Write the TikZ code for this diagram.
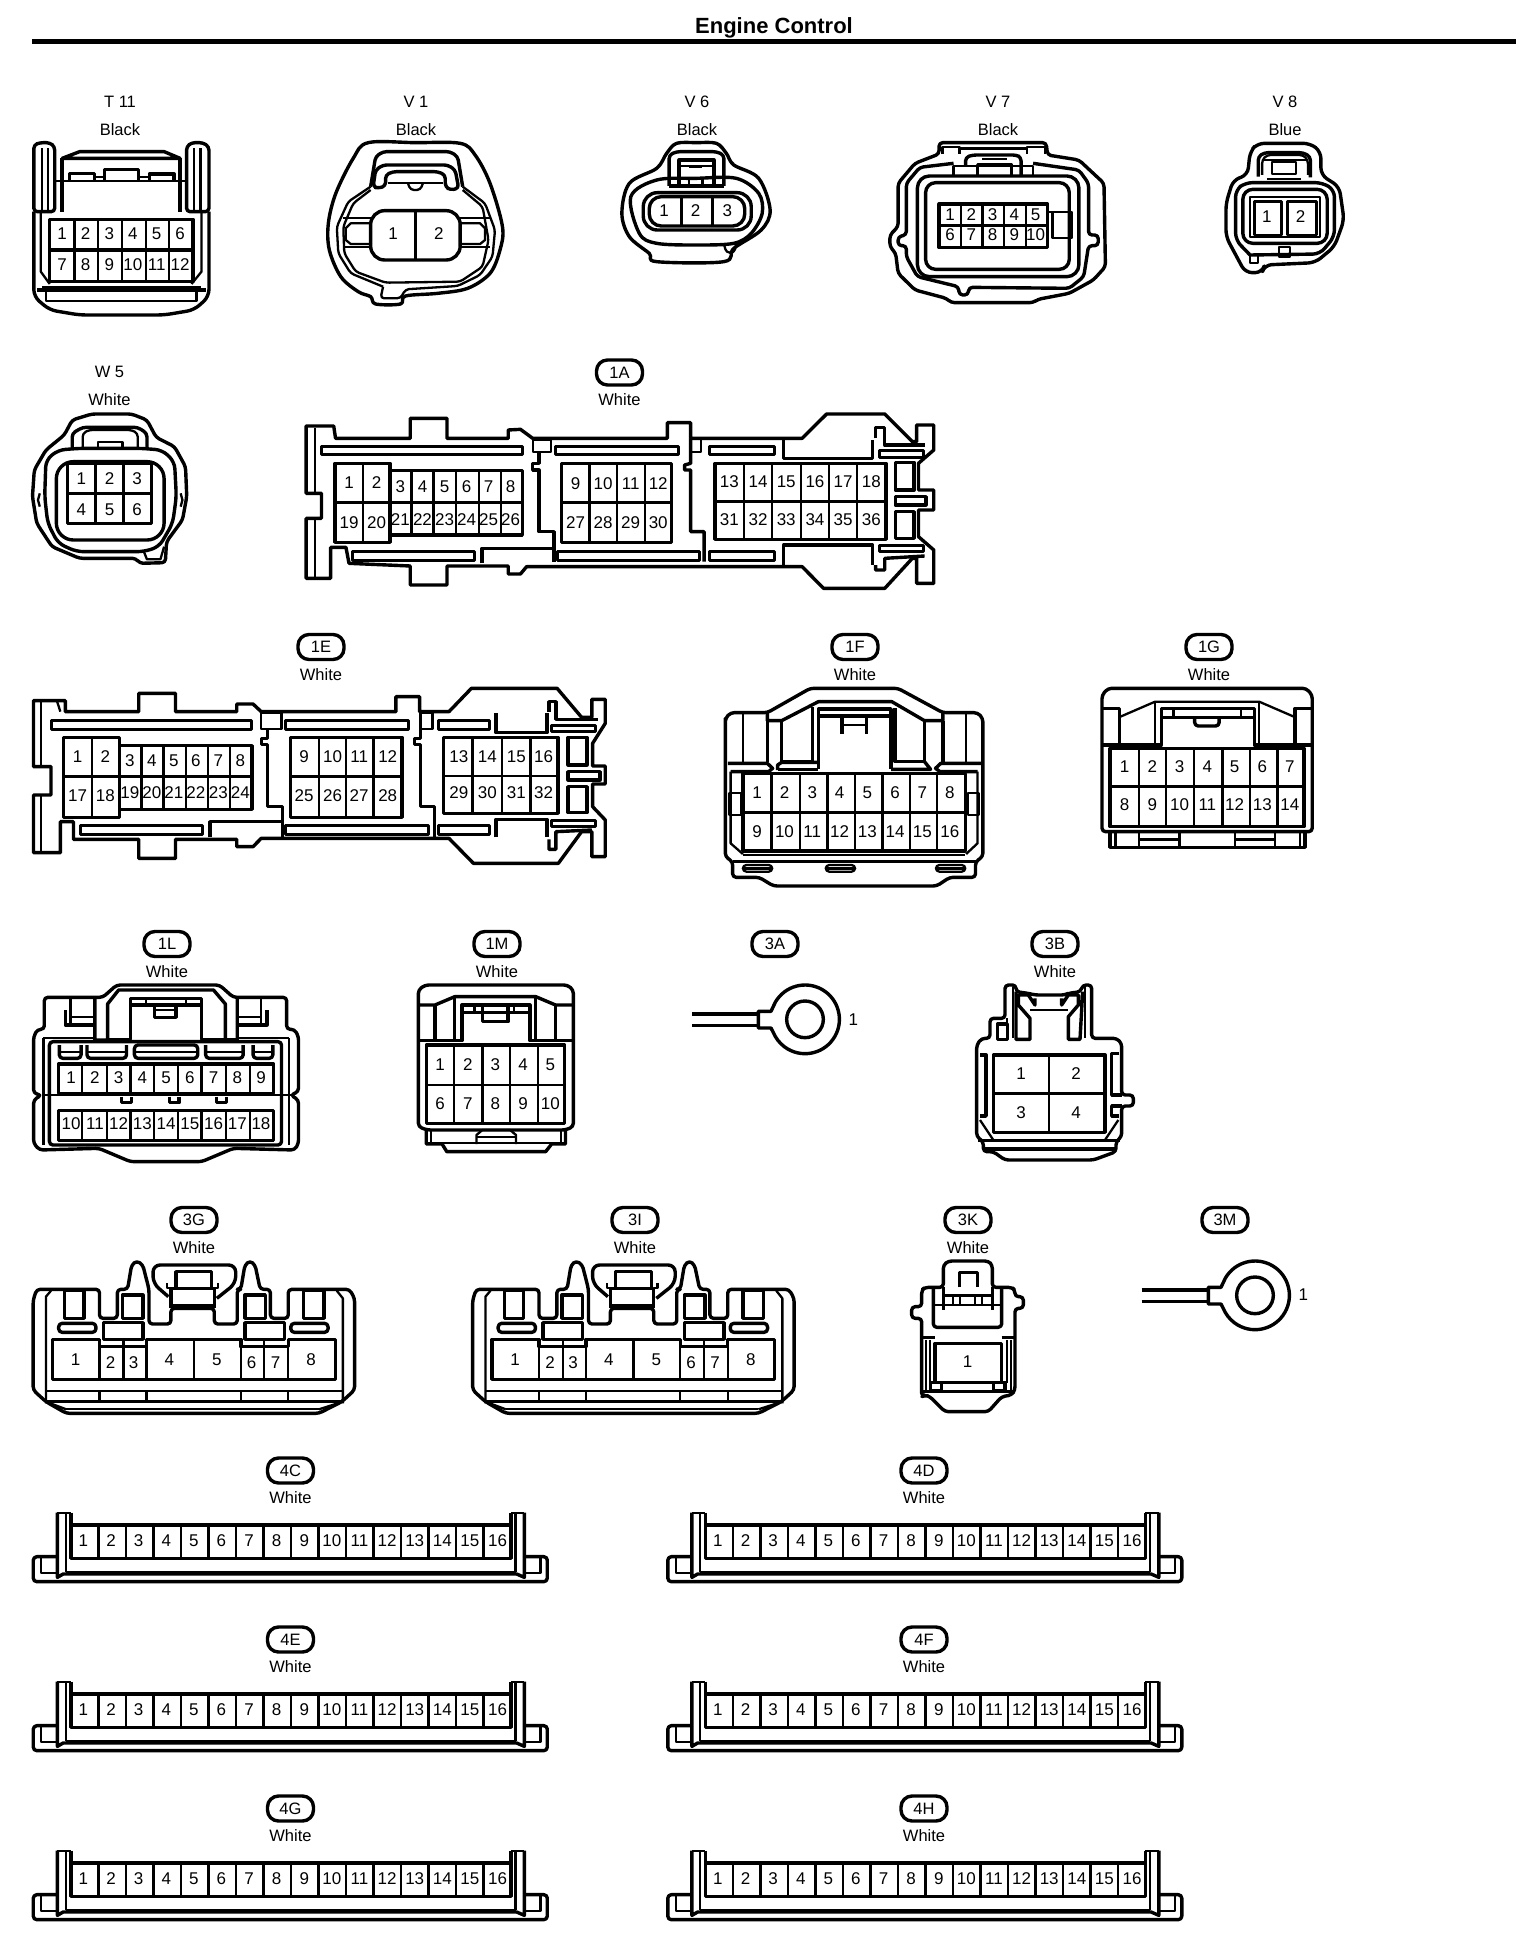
\documentclass[tikz,border=0pt]{standalone}
\usepackage{fontspec}
\setmainfont{Liberation Sans}
\newcommand\ply[2][]{\draw[#1] plot coordinates {#2};}
\newcommand\plc[2][]{\draw[#1] plot coordinates {#2} -- cycle;}
\newcommand\smo[2][]{\draw[#1] plot[smooth cycle,tension=.55] coordinates {#2};}
% grid: x0 y0 x1 y1 row-y columns
\newcommand\grd[6]{\draw (#1,#2) rectangle (#3,#4);\draw[thn,line width=2.8pt] (#1,#5)--(#3,#5);\foreach \c in {#6}{\draw[thn,line width=2.4pt] (\c,#2)--(\c,#4);}}
% pins: prefix, y, x/label list
\newcommand\pins[3]{\foreach \x/\t in {#3}{\node[pinlab] (#1p\t) at (\x,#2) {\t};}}
\newcommand\head[4]{\node[lab] (id#1) at (#2,#3) {#1};\node[lab] (col#1) at (#2,#3+27.5) {#4};}
\newcommand\pill[4]{\node[pillst] (id#1) at (#2,#3) {#1};\ifx&#4&\else\node[lab] (col#1) at (#2,#3+27.5) {#4};\fi}
\tikzset{
 z/.style n args={4}{shift={(#1,#2)},xscale={1/#3},yscale={1/#4}},
 thn/.style={line width=2.3pt},
 rc/.style={rounded corners=3.5pt},
 rcb/.style={rounded corners=7pt},
 pinlab/.style={inner sep=0pt,font=\fontsize{17}{17}\selectfont},
 lab/.style={inner sep=0pt,font=\fontsize{16.5}{17}\selectfont},
 pillst/.style={draw,line width=3.4pt,rounded corners=11pt,minimum width=46pt,minimum height=25pt,inner sep=0pt,font=\fontsize{16.5}{17}\selectfont},
}
\newcommand\lug[3]{% wire x0, cx, cy (zoom units, scale 3)
 \draw (#1,#3-16)--(#2-140,#3-16); \draw (#1,#3+18)--(#2-140,#3+18);
 \draw (#2-140,#3-24)--(#2-102,#3-24)--(#2-89,#3-51.5) arc[start angle=210,end angle=510,radius=103]--(#2-102,#3+26)--(#2-140,#3+26)--cycle;
 \draw (#2,#3) circle[radius=55];
}
\newcommand\threeG[1]{%
 \plc[rc]{(65,300) (72,268) (195,268) (195,355) (230,355) (230,268) (250,268) (258,195) (268,182) (280,195) (292,268) (292,372) (335,372) (335,325) (420,325) (420,372) (465,372) (465,268) (472,268) (480,195) (490,182) (500,195) (510,268) (530,268) (530,355) (565,355) (565,268) (685,268) (695,295) (695,570) (670,605) (625,640) (130,640) (90,605) (65,570)}
 \ply[thn]{(100,272) (90,290) (90,610)}
 \ply[thn]{(660,272) (672,295) (672,610)}
 \plc{(127,270) (127,355) (165,355) (165,270)}
 \plc{(595,270) (595,355) (635,355) (635,270)}
 \draw (240,285) rectangle (280,355);
 \draw (480,285) rectangle (520,355);
 \ply[rcb]{(330,290) (300,250) (300,195) (462,195) (462,250) (425,295)}
 \ply{(345,265) (345,215) (415,215) (415,265)}
 \ply{(335,325) (335,265) (420,265) (420,325)}
 \draw (335,318)--(420,318);
 \draw[thn] (328,250)--(328,265)--(335,265); \draw[thn] (427,250)--(427,265)--(420,265);
 \draw[rc] (115,370) rectangle (188,397);
 \draw[rc] (570,370) rectangle (643,397);
 \draw (203,368) rectangle (280,418);
 \draw (480,368) rectangle (558,418);
 \plc{(103,418) (195,418) (195,440) (287,440) (287,418) (472,418) (472,440) (565,440) (565,418) (657,418) (657,538) (103,538)}
 \foreach \c in {195,242,287,380,472,518,565}{\draw[thn] (\c,418)--(\c,538);}
 \pins{#1}{478}{148/1,332/4,425/5,610/8}
 \pins{#1}{488}{217/2,262/3,493/6,540/7}
 \draw[thn] (90,574)--(672,574); \draw (90,605)--(672,605);
 \foreach \c in {195,287,472,565}{\draw[thn] (\c,574)--(\c,605);}
 \ply[thn]{(90,605) (130,628)}\ply[thn]{(672,605) (625,628)}
 \draw[thn] (130,628)--(625,628);
}
\newcommand\fourC[1]{%
 \ply[rc]{(148,350) (87,350) (87,425) (1430,425) (1430,350) (1370,350)}
 \ply[thn]{(108,352) (108,398) (150,398)}
 \ply[thn]{(1412,352) (1412,398) (1368,398)}
 \ply{(150,218) (150,412) (165,402) (1350,402) (1370,412) (1370,218)}
 \draw[thn] (150,218)--(185,218); \draw[thn] (1335,218)--(1370,218);
 \ply[thn]{(172,218) (172,395)}\ply[thn]{(1347,218) (1347,395)}
 \draw[thn] (172,395)--(1347,395);
 \ply{(185,218) (185,355)}\ply{(1335,218) (1335,355)}
 \draw (185,255) rectangle (1335,355);
 \foreach \i [evaluate=\i as \xx using {185+71.9*\i}] in {1,...,15}{\draw[line width=2.6pt] (\xx,255)--(\xx,355);}
 \foreach \i [evaluate=\i as \xx using {218+72.13*(\i-1)}] in {1,...,16}{\node[pinlab] (#1p\i) at (\xx,302) {\i};}
}
\begin{document}
\begin{tikzpicture}[x=1pt,y=-1pt,line width=3.4pt,line join=round]
\useasboundingbox (0,0) rectangle (1536,1958);
\fill[white] (0,0) rectangle (1536,1958);
\node[inner sep=0pt,font=\bfseries\fontsize{22}{22}\selectfont] (title) at (774,28) {Engine Control};
\coordinate (ruleL) at (32,41.5); \coordinate (ruleR) at (1516,41.5);
\draw[line width=4.6pt] (ruleL)--(ruleR);
% ---------- headers
\head{T 11}{120}{102}{Black}
\head{V 1}{416}{102}{Black}
\head{V 6}{697}{102}{Black}
\head{V 7}{998}{102}{Black}
\head{V 8}{1285}{102}{Blue}
\head{W 5}{109.5}{372}{White}
\pill{1A}{619.5}{372.5}{White}
\pill{1E}{321}{647}{White}
\pill{1F}{855}{647}{White}
\pill{1G}{1209}{647}{White}
\pill{1L}{167}{944}{White}
\pill{1M}{497}{944}{White}
\pill{3A}{775}{944}{}
\pill{3B}{1055}{944}{White}
\pill{3G}{194}{1220}{White}
\pill{3I}{635}{1220}{White}
\pill{3K}{968}{1220}{White}
\pill{3M}{1225}{1220}{}
\pill{4C}{290.5}{1470.5}{White}
\pill{4D}{924}{1470.5}{White}
\pill{4E}{290.5}{1639.5}{White}
\pill{4F}{924}{1639.5}{White}
\pill{4G}{290.5}{1808.5}{White}
\pill{4H}{924}{1808.5}{White}
% ---------- T11
\begin{scope}[z={0}{80}{2.01}{3}]
 \plc[rc]{(68,395) (68,195) (80,188) (100,188) (110,200) (110,395)}
 \plc[rc]{(375,395) (375,200) (385,188) (408,188) (420,200) (420,395)}
 \ply[thn]{(85,205) (85,395)}\ply[thn]{(97,205) (97,395)}
 \ply[thn]{(390,205) (390,395)}\ply[thn]{(403,205) (403,395)}
 \plc{(125,235) (160,215) (330,215) (362,235)}
 \draw (125,235)--(125,395); \draw (362,235)--(362,395);
 \draw[thn] (110,302)--(375,302);
 \ply{(140,300) (140,280) (190,280) (190,300)}
 \ply{(210,300) (210,268) (278,268) (278,300)}
 \ply{(300,300) (300,282) (350,282) (350,300)}
 \draw[thn] (190,292)--(210,292); \draw[thn] (278,292)--(300,292);
 \ply[rcb]{(68,395) (68,650) (100,690) (160,705) (330,705) (390,690) (420,650) (420,395)}
 \ply[thn]{(82,395) (82,575) (100,612)}\ply[thn]{(405,395) (405,575) (385,612)}
 \grd{100}{418}{388}{510}{510}{150,197,245,293,340}
 \grd{100}{510}{388}{605}{510}{150,197,245,293,340}
 \draw[thn] (85,620)--(405,620); \draw (75,630)--(415,630);
 \ply[thn]{(92,630) (92,662) (395,662) (395,630)}
 \pins{T}{462}{125/1,172/2,220/3,267/4,315/5,362/6}
 \pins{T}{555}{125/7,172/8,220/9,267/10,315/11,362/12}
\end{scope}
% ---------- V1
\begin{scope}[z={0}{80}{2.01}{3}]
 \smo{(740,188) (835,188) (925,190) (955,225) (985,310) (1010,440) (1005,510) (985,580) (940,625) (880,640) (815,648) (805,672) (755,672) (745,650) (720,635) (685,590) (662,510) (660,430) (675,340) (710,235)}
 \ply[thn,rc]{(745,320) (700,365) (677,440) (680,520) (705,580) (770,620)}
 \ply[thn,rc]{(930,320) (975,370) (995,450) (990,530) (965,585) (920,618) (815,628) (805,655) (765,655) (770,620)}
 \ply[thn,rc]{(745,330) (710,370) (690,440) (692,520) (715,575) (775,608) (925,605) (970,560) (982,480) (970,380) (930,330)}
 \ply[rc]{(745,320) (755,230) (770,215) (905,215) (920,230) (930,320)}
 \plc[rc]{(750,320) (755,270) (770,255) (900,255) (915,270) (922,325) (905,330) (895,320) (895,285) (880,275) (790,275) (775,285) (775,318) (760,325)}
 \ply[thn]{(780,308) (890,308)}
 \ply[thn,rc]{(820,310) (825,330) (845,330) (850,310)}
 \draw[rounded corners=14pt] (745,392) rectangle (925,540);
 \draw[thn] (835,392)--(835,540);
 \draw[thn] (690,415)--(745,415); \draw[thn] (925,415)--(985,415);
 \draw[thn] (690,500)--(745,500); \draw[thn] (925,500)--(985,500);
 \ply[thn]{(745,430) (705,430) (695,445) (695,480) (705,492) (745,492)}
 \ply[thn]{(925,430) (965,430) (975,445) (975,480) (965,492) (925,492)}
 \pins{VA}{462}{790/1,882/2}
\end{scope}
% ---------- V6
\begin{scope}[z={0}{80}{2.01}{3}]
 \smo{(1360,190) (1400,188) (1440,190) (1460,220) (1475,255) (1525,295) (1548,390) (1530,450) (1475,505) (1455,545) (1320,545) (1305,520) (1265,470) (1250,400) (1265,310) (1320,265) (1340,220)}
 \smo{(1268,350) (1320,300) (1400,295) (1480,295) (1525,340) (1532,400) (1510,460) (1475,490) (1400,495) (1320,490) (1285,460)}
 \ply[rc]{(1345,318) (1345,225) (1360,215) (1440,215) (1455,225) (1455,318)}
 \ply{(1365,318) (1365,240) (1435,240) (1435,318)}
 \draw[thn] (1365,258)--(1435,258);
 \draw[thn] (1385,298) rectangle (1412,318);
 \draw[thn] (1385,260)--(1412,260);
 \draw (1345,318)--(1455,318);
 \draw[rounded corners=14pt] (1293,338) rectangle (1510,450);
 \draw[rounded corners=12pt] (1305,350) rectangle (1497,438);
 \draw[thn] (1370,350)--(1370,438); \draw[thn] (1432,350)--(1432,438);
 \ply[thn,rc]{(1455,492) (1460,518) (1476,518) (1480,490)}
 \pins{VF}{393}{1335/1,1398/2,1462/3}
\end{scope}
% ---------- V7
\begin{scope}[z={780}{80}{2.074}{3}]
 \plc[rc]{(330,222) (330,188) (552,188) (555,225) (620,240) (672,310) (675,560) (650,600) (600,640) (535,658) (525,668) (355,668) (345,655) (280,630) (245,580) (240,520) (228,500) (228,465) (245,440) (245,310) (280,250)}
 \ply[rc]{(360,250) (290,262) (262,310) (262,465) (245,470) (245,497) (262,497) (262,530) (285,590) (370,620) (372,645) (390,645) (392,622) (600,625) (630,590) (640,497) (660,497) (660,465) (640,465) (640,310) (620,270) (525,250)}
 \draw[rounded corners=12pt] (285,288) rectangle (620,590);
 \draw[rounded corners=10pt] (302,308) rectangle (600,568);
 \draw (375,205)--(510,205);
 \ply[thn]{(337,222) (337,200) (372,200) (372,222)}
 \ply[thn]{(512,222) (512,200) (550,200) (550,222)}
 \ply[rc]{(385,255) (385,232) (400,225) (490,225) (500,232) (500,285)}
 \ply{(410,288) (410,255) (480,255) (480,288)}
 \draw[thn] (420,238)--(470,238);
 \ply[thn]{(360,288) (360,258) (525,258) (525,288)}
 \grd{330}{372}{555}{503}{437}{376,420,465,510}
 \draw[thn] (565,397) rectangle (605,475);
 \draw[thn] (555,397)--(565,397);
 \pins{VS}{405}{353/1,397/2,441/3,486/4,530/5}
 \pins{VS}{465}{353/6,397/7,441/8,486/9,530/10}
\end{scope}
% ---------- V8
\begin{scope}[z={780}{80}{2.074}{3}]
 \plc[rcb]{(975,215) (990,190) (1100,190) (1122,215) (1122,285) (1160,320) (1170,420) (1150,500) (1110,548) (1005,555) (1000,578) (965,578) (925,470) (925,370) (940,300) (970,285)}
 \ply[rc]{(992,290) (992,230) (1005,218) (1085,218) (1100,230) (1100,292)}
 \ply[thn,rc]{(1000,285) (1000,240) (1010,225) (1085,225) (1095,240) (1095,285)}
 \draw[thn] (1000,240)--(1095,240);
 \draw[thn] (1020,245) rectangle (1070,282);
 \draw[thn] (1010,296)--(1080,296);
 \ply[rcb]{(975,525) (945,480) (945,330) (965,308) (1125,308) (1150,330) (1150,470) (1120,522) (975,525)}
 \draw[rounded corners=10pt] (960,328) rectangle (1135,490);
 \draw[thn] (975,352) rectangle (1120,472);
 \draw[line width=2.8pt] (985,365) rectangle (1040,465);
 \draw[line width=2.8pt] (1053,365) rectangle (1112,465);
 \ply[thn]{(975,525) (975,550) (992,550) (992,525)}
 \draw[thn] (1035,500) rectangle (1058,530);
 \pins{VE}{410}{1010/1,1080/2}
\end{scope}
% ---------- W5
\begin{scope}[z={0}{350}{1.633}{3}]
 \plc[rc]{(105,255) (118,210) (150,192) (215,192) (240,210) (255,262) (285,290) (303,350) (305,440) (298,510) (272,575) (270,638) (228,640) (222,625) (130,625) (85,590) (60,520) (53,440) (56,360) (75,300)}
 \plc[rcb]{(75,330) (95,300) (130,295) (230,295) (265,300) (285,335) (288,440) (282,520) (260,590) (235,605) (125,605) (95,580) (78,520) (73,440)}
 \draw[rounded corners=17pt] (92,335) rectangle (268,570);
 \ply[rc]{(118,295) (118,250) (135,232) (225,232) (240,250) (240,295)}
 \ply[thn,rc]{(135,295) (135,250) (145,240) (215,240) (225,250) (225,295)}
 \draw[thn] (160,275) rectangle (200,293);
 \grd{110}{340}{247}{520}{430}{156,202}
 \ply[thn]{(65,430) (62,450) (65,470)}\ply[thn]{(295,430) (298,450) (295,470)}
 \ply[thn]{(235,605) (240,628) (262,628) (268,590)}
 \pins{W}{385}{133/1,179/2,224/3}
 \pins{W}{478}{133/4,179/5,224/6}
\end{scope}
% ---------- 1A
\begin{scope}[z={0}{350}{1.633}{3}]
 \plc{(500,228) (545,228) (548,265) (670,265) (670,205) (730,205) (730,265) (830,265) (830,240) (850,238) (870,265) (1090,265) (1090,218) (1128,218) (1128,265) (1310,265) (1350,192) (1445,192) (1490,275) (1497,275) (1497,225) (1525,225) (1525,300) (1500,340) (1500,420) (1525,420) (1525,480) (1500,480) (1500,560) (1525,600) (1525,700) (1497,700) (1497,625) (1490,625) (1445,715) (1345,715) (1310,650) (860,650) (850,672) (830,672) (830,648) (730,648) (730,705) (670,705) (670,648) (570,640) (565,592) (540,592) (540,685) (500,685) (500,505) (525,505) (525,430) (500,430)}
 \draw[thn] (514,235)--(514,430); \draw[thn] (514,505)--(514,680);
 \draw[line width=3pt] (525,290) rectangle (853,313);
 \draw[line width=3pt] (908,290) rectangle (1108,313);
 \draw[line width=3pt] (1158,290) rectangle (1265,313);
 \draw[line width=3pt] (575,605) rectangle (775,630);
 \draw[line width=3pt] (910,605) rectangle (1143,630);
 \draw[line width=3pt] (1158,605) rectangle (1265,630);
 \plc[thn]{(870,270) (900,270) (900,305) (870,305)}
 \ply{(880,305) (880,340) (870,340) (870,360) (880,360) (880,545) (905,545) (905,635)}
 \ply{(1128,265) (1128,340) (1118,345) (1118,360) (1128,360) (1128,545) (1150,545) (1150,635)}
 \draw[thn] (1128,305)--(1145,305)--(1145,268);
 \ply{(787,640) (787,595) (905,595)}
 \ply{(1280,270) (1280,325) (1425,325) (1425,270)}
 \ply{(1280,645) (1280,585) (1425,585) (1425,645)}
 \ply{(1430,265) (1430,232) (1445,232) (1445,285) (1510,285)}
 \ply{(1430,645) (1430,660) (1445,660) (1445,625) (1510,618)}
 \draw[line width=3pt] (1437,302) rectangle (1508,322);
 \draw[line width=3pt] (1437,585) rectangle (1508,605);
 \draw (1462,337) rectangle (1493,420);
 \draw (1462,485) rectangle (1493,565);
 \draw (1462,440) rectangle (1512,465);
 \grd{637}{362}{853}{555}{458}{672,708,745,782,818}
 \grd{547}{340}{637}{577}{458}{593}
 \grd{917}{340}{1097}{577}{458}{963,1008,1053}
 \grd{1168}{340}{1447}{568}{455}{1215,1261,1308,1354,1400}
 \pins{A}{398}{570/1,615/2}
 \pins{A}{518}{570/19,615/20}
 \pins{A}{410}{654/3,690/4,726/5,762/6,798/7,834/8}
 \pins{A}{508}{654/21,690/22,726/23,762/24,798/25,834/26}
 \pins{A}{400}{940/9,985/10,1030/11,1075/12}
 \pins{A}{518}{940/27,985/28,1030/29,1075/30}
 \pins{A}{396}{1191/13,1238/14,1284/15,1331/16,1377/17,1423/18}
 \pins{A}{510}{1191/31,1238/32,1284/33,1331/34,1377/35,1423/36}
\end{scope}
% ---------- 1E
\begin{scope}[z={0}{630}{2.45}{3}]
 \plc{(82,212) (160,212) (160,245) (340,245) (340,190) (430,190) (430,245) (580,245) (580,222) (620,222) (640,245) (970,245) (970,200) (1028,200) (1028,245) (1100,245) (1155,175) (1365,175) (1425,262) (1450,262) (1450,208) (1483,208) (1483,280) (1452,340) (1452,408) (1483,408) (1483,462) (1452,462) (1452,530) (1483,570) (1483,680) (1450,680) (1450,605) (1425,605) (1368,700) (1160,700) (1100,625) (640,625) (620,650) (580,650) (580,628) (430,628) (430,685) (340,685) (340,628) (180,628) (180,575) (148,575) (148,668) (82,668) (82,495) (125,495) (125,410) (82,410)}
 \draw[thn] (100,215)--(100,410); \draw[thn] (100,495)--(100,665);
 \draw[thn] (140,215)--(148,245);
 \draw[line width=3pt] (125,270) rectangle (615,297);
 \draw[line width=3pt] (700,270) rectangle (1000,297);
 \draw[line width=3pt] (1075,270) rectangle (1200,297);
 \draw[line width=3pt] (198,585) rectangle (495,612);
 \draw[line width=3pt] (700,585) rectangle (1050,612);
 \draw[line width=3pt] (1075,585) rectangle (1200,612);
 \plc[thn]{(640,250) (690,250) (690,297) (640,297)}
 \ply{(655,297) (655,325) (640,325) (640,343) (655,343) (655,530) (692,530) (692,625)}
 \ply{(515,622) (515,575) (692,575)}
 \plc[thn]{(1030,250) (1060,250) (1060,297) (1030,297)}
 \ply{(1030,297) (1030,325) (1015,325) (1015,343) (1030,343) (1030,530) (1065,530) (1065,625)}
 \ply{(1215,250) (1215,308) (1340,308) (1340,250)}
 \ply{(1215,622) (1215,568) (1340,568) (1340,622)}
 \ply{(1345,245) (1345,215) (1362,215) (1362,268) (1465,268)}
 \ply{(1345,628) (1345,658) (1362,658) (1362,605) (1450,600)}
 \draw[line width=3pt] (1350,285) rectangle (1460,305);
 \draw[line width=3pt] (1350,570) rectangle (1460,590);
 \draw (1392,322) rectangle (1438,405);
 \draw (1392,470) rectangle (1438,548);
 \draw (1392,425) rectangle (1470,450);
 \grd{293}{347}{617}{538}{440}{347,401,455,510,564}
 \grd{155}{322}{293}{562}{440}{225}
 \grd{712}{322}{985}{562}{440}{782,848,915}
 \grd{1087}{322}{1367}{550}{438}{1158,1230,1300}
 \pins{E}{380}{190/1,258/2,745/9,815/10,880/11,950/12,1124/13,1194/14,1265/15,1332/16}
 \pins{E}{497}{190/17,258/18,745/25,815/26,880/27,950/28}
 \pins{E}{392}{318/3,372/4,426/5,480/6,535/7,589/8}
 \pins{E}{488}{318/19,372/20,426/21,480/22,535/23,589/24,1124/29,1194/30,1265/31,1332/32}
\end{scope}
% ---------- 1F
\begin{scope}[z={700}{630}{2.45}{3}]
 \plc[rc]{(62,275) (62,680) (80,695) (80,742) (145,742) (180,768) (580,768) (612,742) (675,742) (675,695) (693,680) (693,265) (680,248) (595,248) (485,175) (270,175) (165,248) (75,248) (62,265)}
 \ply{(165,248) (165,272) (200,272) (290,215) (470,215) (550,272) (595,272) (595,248)}
 \draw[thn] (105,250)--(105,395); \draw (165,272)--(165,395);
 \draw[thn] (652,250)--(652,395); \draw (595,272)--(595,395);
 \ply{(68,400) (165,400) (178,415) (168,425) (75,425)}
 \ply{(688,400) (590,400) (577,415) (588,425) (680,425)}
 \ply{(200,272) (200,395) (280,395)}
 \ply{(275,232) (275,395)}
 \ply{(190,420) (190,405) (200,397) (290,397)}
 \ply{(290,418) (290,237) (468,237) (468,418)}
 \draw (290,258)--(468,258);
 \draw (348,262)--(348,312); \draw (408,262)--(408,312); \draw[thn] (348,285)--(408,285);
 \ply{(478,235) (478,395) (550,395) (550,272)}
 \draw (190,418)--(290,418); \draw (468,418)--(565,418)--(550,395);
 \ply[thn]{(75,425) (75,640) (105,672)}
 \ply[thn]{(680,425) (680,640) (652,672)}
 \grd{105}{430}{650}{663}{548}{175,245,312,380,447,515,580}
 \draw[thn] (72,490) rectangle (100,555);
 \draw[thn] (657,490) rectangle (682,555);
 \draw[thn] (105,676)--(650,676); \draw (80,695)--(675,695);
 \draw[rc,thn] (105,705) rectangle (177,725);\draw[line width=3pt] (105,714)--(177,714);
 \draw[rc,thn] (308,705) rectangle (380,725);\draw[line width=3pt] (308,714)--(380,714);
 \draw[rc,thn] (578,705) rectangle (650,725);\draw[line width=3pt] (578,714)--(650,714);
 \pins{F}{487}{140/1,207/2,275/3,342/4,410/5,478/6,545/7,612/8}
 \pins{F}{605}{140/9,207/10,275/11,342/12,410/13,478/14,545/15,612/16}
\end{scope}
% ---------- 1G
\begin{scope}[z={700}{630}{2.45}{3}]
 \plc[rc]{(985,605) (985,195) (1000,175) (1485,175) (1500,195) (1500,605)}
 \ply{(985,235) (1028,235) (1028,340)}
 \ply{(1500,235) (1458,235) (1458,340)}
 \ply[thn]{(1030,260) (1115,215) (1370,215) (1455,260)}
 \draw[thn] (1115,215)--(1115,345); \draw[thn] (1370,215)--(1370,345);
 \ply{(985,345) (1130,345) (1130,235) (1358,235) (1358,345) (1500,345)}
 \draw (1130,262)--(1358,262);
 \draw[thn] (1160,240)--(1160,260); \draw[thn] (1325,240)--(1325,260);
 \ply[rc]{(1212,262) (1212,288) (1272,288) (1272,262)}
 \grd{1005}{355}{1480}{590}{470}{1075,1142,1210,1280,1348,1415}
 \ply{(1005,605) (1005,652) (1482,652) (1482,605)}
 \draw[thn] (1018,605)--(1018,650); \draw[thn] (1470,605)--(1470,650);
 \foreach \c in {1075,1175,1310,1408}{\draw[thn] (\c,605)--(\c,650);}
 \draw[line width=3pt] (1075,628)--(1175,628); \draw[line width=3pt] (1310,628)--(1408,628);
 \pins{G}{410}{1040/1,1108/2,1175/3,1243/4,1310/5,1378/6,1445/7}
 \pins{G}{525}{1040/8,1108/9,1175/10,1243/11,1310/12,1378/13,1445/14}
\end{scope}
% ---------- 1L
\begin{scope}[z={0}{930}{2.529}{3}]
 \plc[rc]{(112,298) (112,202) (260,202) (295,165) (555,165) (590,202) (725,202) (725,298) (745,298) (755,320) (755,485) (735,495) (755,510) (755,640) (745,660) (590,655) (510,695) (330,695) (250,655) (100,660) (85,640) (85,510) (105,495) (85,490) (85,320) (95,298)}
 \draw[thn] (105,495)--(735,495);
 \draw[rc] (125,335) rectangle (712,645);
 \ply[thn]{(110,325) (110,645)}\ply[thn]{(730,325) (730,645)}
 \draw[thn] (110,325)--(240,325); \draw[thn] (600,325)--(730,325);
 \ply{(275,328) (330,328) (330,205) (510,205) (510,328) (600,328)}
 \draw (330,225)--(510,225);
 \ply{(390,225) (390,262) (445,262) (445,225)}
 \draw[thn] (370,210)--(370,225); \draw[thn] (470,210)--(470,225); \draw[thn] (390,240)--(445,240);
 \draw (240,205)--(240,330)--(272,330)--(272,222)--(300,180)--(540,180)--(570,222)--(570,330)--(600,330)--(600,205);
 \ply{(165,240) (165,285) (240,285)}
 \draw[thn] (178,205)--(178,285); \draw[thn] (178,262)--(240,262);
 \ply{(675,240) (675,285) (600,285)}
 \draw[thn] (660,205)--(660,285); \draw[thn] (600,262)--(660,262);
 \ply[rc]{(150,345) (150,385) (205,385) (205,345)}
 \ply[rc]{(220,345) (220,385) (320,385) (320,345)}
 \draw[rc] (340,345) rectangle (500,385);
 \ply[rc]{(520,345) (520,385) (615,385) (615,345)}
 \ply[rc]{(640,345) (640,385) (690,385) (690,345)}
 \foreach \a/\b in {150/205,220/320,340/500,520/615,640/690}{\draw[thn] (\a,365)--(\b,365);}
 \grd{148}{402}{692}{490}{490}{208,270,330,390,450,510,572,632}
 \grd{148}{542}{692}{632}{632}{208,270,330,390,450,510,572,632}
 \ply{(308,500) (308,518) (333,518) (333,500)}
 \ply{(428,500) (428,518) (453,518) (453,500)}
 \ply{(548,500) (548,518) (573,518) (573,500)}
 \pins{L}{442}{180/1,240/2,300/3,360/4,420/5,480/6,540/7,600/8,660/9}
 \pins{L}{582}{180/10,240/11,300/12,360/13,420/14,480/15,540/16,600/17,660/18}
\end{scope}
% ---------- 1M
\begin{scope}[z={0}{930}{2.529}{3}]
 \plc[rc]{(1058,590) (1058,180) (1075,165) (1435,165) (1450,180) (1450,590) (1430,600) (1080,600)}
 \ply{(1058,225) (1100,225) (1150,200) (1355,200) (1405,225) (1450,225)}
 \draw (1100,225)--(1100,330); \draw (1405,225)--(1405,330);
 \draw (1150,200)--(1150,330); \draw (1355,200)--(1355,330);
 \ply{(1058,332) (1168,332) (1168,225) (1340,225) (1340,332) (1450,332)}
 \draw (1168,248)--(1340,248);
 \ply{(1220,225) (1220,275) (1285,275) (1285,225)}
 \draw[thn] (1200,232)--(1200,248); \draw[thn] (1300,232)--(1300,248);
 \grd{1078}{345}{1428}{580}{465}{1148,1220,1290,1360}
 \ply{(1078,600) (1078,642) (1118,642) (1130,665) (1380,665) (1395,642) (1430,642) (1430,600)}
 \draw[thn] (1090,600)--(1090,640); \draw[thn] (1418,600)--(1418,640);
 \draw[thn] (1078,640)--(1430,640);
 \ply[thn]{(1205,642) (1205,615) (1220,600) (1290,600) (1305,615) (1305,642)}
 \draw[thn] (1205,620)--(1305,620);
 \pins{M}{403}{1113/1,1183/2,1253/3,1323/4,1392/5}
 \pins{M}{520}{1113/6,1183/7,1253/8,1323/9,1392/10}
\end{scope}
% ---------- 3A
\begin{scope}[z={660}{930}{3}{3}]
 \lug{97}{435}{268}
 \node[pinlab] (A1) at (580,268) {1};
\end{scope}
% ---------- 3B
\begin{scope}[z={660}{930}{3}{3}]
 \plc[rc]{(950,345) (965,325) (990,325) (990,265) (1035,265) (1035,165) (1068,165) (1068,185) (1105,190) (1125,195) (1215,195) (1225,190) (1262,185) (1268,165) (1295,165) (1295,325) (1370,325) (1385,340) (1385,495) (1420,495) (1420,528) (1385,528) (1385,620) (1368,635) (1368,665) (1300,690) (1035,690) (1000,665) (970,665) (970,635) (950,620)}
 \draw[thn] (1042,265)--(1042,325); \draw[thn] (1058,172)--(1058,325);
 \ply{(1068,185) (1068,328) (1110,328) (1110,265) (1075,225) (1075,195) (1105,195) (1125,225) (1125,205)}
 \ply{(1268,185) (1260,328) (1225,328) (1225,260) (1255,225) (1255,195) (1225,195) (1205,225) (1205,205)}
 \draw[thn] (1275,172)--(1275,325);
 \draw[thn] (1110,240)--(1225,240);
 \draw (1012,282) rectangle (1042,328);
 \ply{(960,375) (978,375) (978,558) (960,558)}
 \ply{(1378,370) (1355,370) (1355,495) (1385,495)}
 \ply{(1385,528) (1355,528) (1355,558) (1378,558)}
 \ply[thn]{(960,570) (1000,630)}\ply[thn]{(1375,570) (1335,630)}
 \draw (955,632)--(1380,632); \draw (975,657)--(1365,657);
 \grd{1000}{375}{1335}{607}{490}{1167}
 \draw[line width=3pt] (1000,490)--(1335,490);
 \pins{B}{430}{1083/1,1248/2}
 \pins{B}{548}{1083/3,1248/4}
\end{scope}
% ---------- 3G, 3I
\begin{scope}[z={0}{1200}{1.96}{3}]\threeG{Gg}\end{scope}
\begin{scope}[z={439.5}{1200}{1.96}{3}]\threeG{Ii}\end{scope}
% ---------- 3K
\begin{scope}[z={900}{1200}{3}{3}]
 \plc[rc]{(65,590) (65,355) (35,355) (35,320) (65,320) (65,270) (75,262) (130,262) (130,195) (145,183) (265,183) (277,195) (277,262) (335,262) (345,270) (345,290) (370,290) (370,325) (345,325) (345,570) (335,585) (305,590) (265,635) (135,635) (90,590) (75,585)}
 \draw (130,262)--(130,330); \draw (277,262)--(277,330);
 \ply{(178,262) (178,218) (232,218) (232,262)}
 \ply[rc]{(100,262) (100,382) (305,382) (305,262)}
 \draw (130,287)--(277,287); \draw[thn] (100,316)--(305,316);
 \foreach \c in {160,180,225,247}{\draw[thn] (\c,290)--(\c,314);}
 \draw (65,412)--(105,412); \draw (305,412)--(345,412);
 \draw[thn] (78,420)--(78,572); \draw[thn] (90,420)--(90,548);
 \draw[thn] (320,420)--(320,548); \draw[thn] (333,420)--(333,572);
 \ply{(105,548) (105,430) (305,430) (305,548)}
 \draw (90,548)--(318,548);
 \ply{(92,548) (92,572) (125,572) (125,548)}
 \ply{(280,548) (280,572) (315,572) (315,548)}
 \draw (65,574)--(345,574);
 \node[pinlab] (K1) at (203,485) {1};
\end{scope}
% ---------- 3M
\begin{scope}[z={900}{1200}{3}{3}]
 \lug{725}{1065}{286}
 \node[pinlab] (M1) at (1210,285) {1};
\end{scope}
% ---------- 4C...4H
\begin{scope}[z={0}{1440}{2.613}{3}]\fourC{Cc}\end{scope}
\begin{scope}[z={634.5}{1440}{2.613}{3}]\fourC{Dd}\end{scope}
\begin{scope}[z={0}{1609}{2.613}{3}]\fourC{Ee}\end{scope}
\begin{scope}[z={634.5}{1609}{2.613}{3}]\fourC{Ff}\end{scope}
\begin{scope}[z={0}{1778}{2.613}{3}]\fourC{Hh}\end{scope}
\begin{scope}[z={634.5}{1778}{2.613}{3}]\fourC{Jj}\end{scope}
\end{tikzpicture}
\end{document}
